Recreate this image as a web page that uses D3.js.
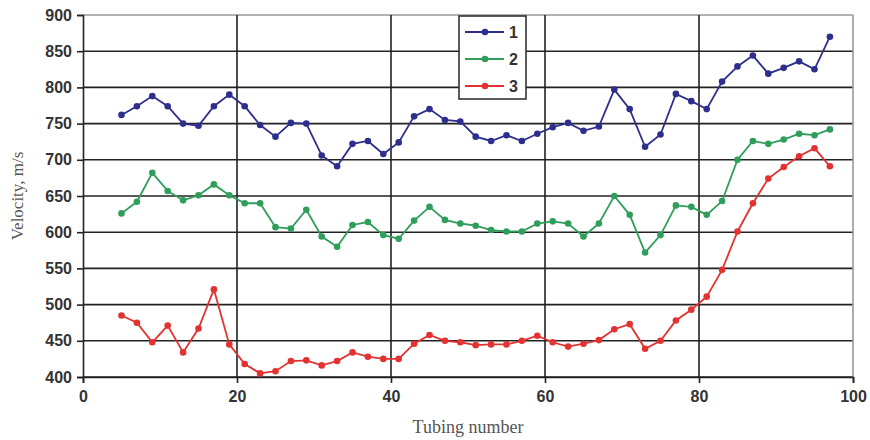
<!DOCTYPE html>
<html>
<head>
<meta charset="utf-8">
<script src="https://cdn.jsdelivr.net/npm/d3@7"></script>
<style>
  body { margin: 0; background: #fff; }
  svg { display: block; }
  .tick text { font-family: "Liberation Sans", Arial, sans-serif; font-weight: bold; font-size: 16px; fill: #333; }
</style>
</head>
<body>
<svg id="chart" width="870" height="440"></svg>
<script>
// Tubing numbers (odd, 5..97)
const tubing = [5, 7, 9, 11, 13, 15, 17, 19, 21, 23, 25, 27, 29, 31, 33, 35, 37, 39, 41, 43, 45, 47, 49,
  51, 53, 55, 57, 59, 61, 63, 65, 67, 69, 71, 73, 75, 77, 79, 81, 83, 85, 87, 89, 91, 93, 95, 97];

const series1 = [762, 774, 788, 774, 750, 747, 774, 790, 774, 748, 732, 751, 750, 706, 691, 722, 726, 708, 724,
  760, 770, 755, 753, 732, 726, 734, 726, 736, 745, 751, 740, 746, 797, 770, 718, 735, 791, 781, 770,
  808, 829, 844, 819, 827, 836, 825, 870];

const series2 = [626, 642, 682, 657, 644, 651, 666, 651, 640, 640, 607, 605, 631, 594, 580, 610, 614, 596, 591,
  616, 635, 617, 612, 609, 603, 601, 601, 612, 615, 612, 594, 612, 650, 624, 572, 596, 637, 635, 624,
  643, 700, 726, 722, 728, 736, 734, 742];

const series3 = [485, 475, 448, 471, 434, 467, 521, 445, 418, 405, 408, 422, 423, 416, 422, 434, 428, 425, 425,
  446, 458, 450, 448, 444, 445, 445, 450, 457, 448, 442, 446, 451, 466, 473, 439, 450, 478, 493, 511,
  548, 601, 640, 674, 690, 705, 716, 691];

const seriesNames = ['1', '2', '3'];
const seriesColors = ['#2e2f8c', '#2f9e5a', '#e23232'];
const xTicks = [0, 20, 40, 60, 80, 100];
const yTicks = [400, 450, 500, 550, 600, 650, 700, 750, 800, 850, 900];

const svg = d3.select('#chart');
const plot = { left: 83, right: 853, top: 15, bottom: 377 };

const x = d3.scaleLinear().domain([0, 100]).range([plot.left, plot.right]);
const y = d3.scaleLinear().domain([400, 900]).range([plot.bottom, plot.top]);

// Horizontal grid
svg.append('g')
  .selectAll('line')
  .data(yTicks)
  .enter()
  .append('line')
  .attr('x1', plot.left).attr('x2', plot.right)
  .attr('y1', d => y(d)).attr('y2', d => y(d))
  .attr('stroke', d => d === 900 ? '#999' : '#222')
  .attr('stroke-width', 1.6);

// Vertical grid
svg.append('g')
  .selectAll('line')
  .data(xTicks.filter(d => d > 0 && d < 100))
  .enter()
  .append('line')
  .attr('x1', d => x(d)).attr('x2', d => x(d))
  .attr('y1', plot.top).attr('y2', plot.bottom)
  .attr('stroke', '#222')
  .attr('stroke-width', 1.6);

// Right border
svg.append('line')
  .attr('x1', plot.right).attr('x2', plot.right)
  .attr('y1', plot.top).attr('y2', plot.bottom)
  .attr('stroke', '#999').attr('stroke-width', 1.6);

// Axes
const yAxis = svg.append('g')
  .attr('transform', `translate(${plot.left},0)`)
  .call(d3.axisLeft(y).tickValues(yTicks).tickSize(6).tickPadding(5));
yAxis.select('.domain').attr('stroke', '#222').attr('stroke-width', 1.6);
yAxis.selectAll('.tick line').attr('stroke', '#222').attr('stroke-width', 1.6);

const xAxis = svg.append('g')
  .attr('transform', `translate(0,${plot.bottom})`)
  .call(d3.axisBottom(x).tickValues(xTicks).tickSize(6).tickPadding(8));
xAxis.select('.domain').attr('stroke', '#222').attr('stroke-width', 1.6);
xAxis.selectAll('.tick line').attr('stroke', '#222').attr('stroke-width', 1.6);

// Axis titles
svg.append('text')
  .attr('transform', `translate(23,${(plot.top + plot.bottom) / 2}) rotate(-90)`)
  .attr('text-anchor', 'middle')
  .attr('font-family', '"Liberation Serif", "Times New Roman", serif')
  .attr('font-size', 17)
  .attr('fill', '#555')
  .text('Velocity, m/s');

svg.append('text')
  .attr('x', (plot.left + plot.right) / 2)
  .attr('y', 433)
  .attr('text-anchor', 'middle')
  .attr('font-family', '"Liberation Serif", "Times New Roman", serif')
  .attr('font-size', 18)
  .attr('fill', '#555')
  .text('Tubing number');

// Series
const allSeries = [series1, series2, series3];
const line = d3.line()
  .x((d, i) => x(tubing[i]))
  .y(d => y(d));

allSeries.forEach((values, s) => {
  const g = svg.append('g');
  g.append('path')
    .datum(values)
    .attr('d', line)
    .attr('fill', 'none')
    .attr('stroke', seriesColors[s])
    .attr('stroke-width', 1.8);
  g.selectAll('circle')
    .data(values)
    .enter()
    .append('circle')
    .attr('cx', (d, i) => x(tubing[i]))
    .attr('cy', d => y(d))
    .attr('r', 3.3)
    .attr('fill', seriesColors[s]);
});

// Legend
const legend = svg.append('g');
legend.append('rect')
  .attr('x', 459).attr('y', 16)
  .attr('width', 67).attr('height', 83)
  .attr('fill', '#fff')
  .attr('stroke', '#333')
  .attr('stroke-width', 1.6);

seriesNames.forEach((name, s) => {
  const ly = 32 + s * 27;
  legend.append('line')
    .attr('x1', 465).attr('x2', 504)
    .attr('y1', ly).attr('y2', ly)
    .attr('stroke', seriesColors[s])
    .attr('stroke-width', 1.8);
  legend.append('circle')
    .attr('cx', 485).attr('cy', ly)
    .attr('r', 3.3)
    .attr('fill', seriesColors[s]);
  legend.append('text')
    .attr('x', 509).attr('y', ly + 6)
    .attr('font-family', '"Liberation Sans", Arial, sans-serif')
    .attr('font-weight', 'bold')
    .attr('font-size', 16)
    .attr('fill', '#333')
    .text(name);
});
</script>
</body>
</html>
